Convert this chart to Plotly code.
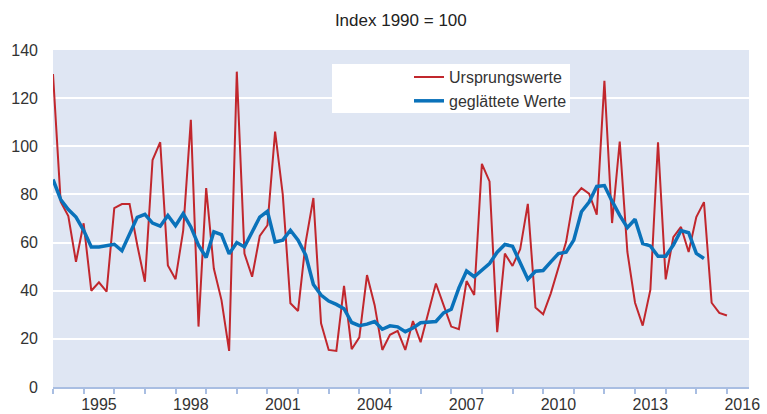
import plotly.graph_objects as go

# Quarterly periods 1994 Q1 ... 2016 Q1 (x position = year + (quarter-1)/4)
start_year = 1994
n_raw = 89
periods = [start_year + i / 4 for i in range(n_raw)]

ursprungswerte = [
    130, 77, 71, 52,            # 1994
    68, 40, 43.5, 39.6,         # 1995
    74.3, 76, 76, 59,           # 1996
    43.7, 94.3, 101.7, 50.5,    # 1997
    44.8, 65, 111, 25.1,        # 1998
    82.6, 49.2, 36.1, 15,       # 1999
    131, 55.4, 45.8, 62.8,      # 2000
    67.2, 106.1, 80, 34.8,      # 2001
    31.6, 60.3, 78.5, 26.5,     # 2002
    15.4, 15, 42, 15.7,         # 2003
    20.6, 46.5, 34, 15.4,       # 2004
    21.7, 23.3, 15.4, 27.4,     # 2005
    18.6, 30.6, 43, 34,         # 2006
    25.1, 24, 44, 38.2,         # 2007
    92.7, 85.4, 22.8, 55.4,     # 2008
    50.3, 57.2, 76.1, 33,       # 2009
    30.2, 38.9, 50, 60.3,       # 2010
    78.9, 82.6, 80.3, 71.6,     # 2011
    127.2, 68.1, 102, 56.1,     # 2012
    35, 25.5, 40.3, 101.7,      # 2013
    44.7, 62.3, 66.5, 56.1,     # 2014
    70.6, 76.8, 35, 30.8,       # 2015
    29.7,                       # 2016
]

geglaettet = [
    86.2, 77.9, 73.7, 70.6,     # 1994
    65.1, 58.2, 58.2, 58.6,     # 1995
    59.3, 56.6, 63.4, 70.5,     # 1996
    71.7, 68.1, 66.8, 71.3,     # 1997
    67, 72, 66.5, 58.9,         # 1998
    53.8, 64.5, 63.3, 55.3,     # 1999
    60, 58.2, 64.4, 70.6,       # 2000
    73, 60.3, 61, 65.1,         # 2001
    61, 54.8, 42.6, 38.2,       # 2002
    35.7, 34.3, 32.5, 26.8,     # 2003
    25.5, 26.1, 27.2, 24,       # 2004
    25.4, 25, 23, 24.5,         # 2005
    26.7, 27, 27.2, 30.8,       # 2006
    32.3, 41.2, 48.2, 45.8,     # 2007
    48.5, 51.3, 56, 59.2,       # 2008
    58.5, 51.8, 44.8, 48.1,     # 2009
    48.4, 52, 55.4, 56,         # 2010
    61, 72.8, 76.8, 83.3,       # 2011
    83.7, 77.2, 71.3, 66.2,     # 2012
    69.7, 59.6, 58.6, 54.3,     # 2013
    54.3, 59, 65, 64.1,         # 2014
    55.5, 53.4,                 # 2015
]

year_label_pos = [1995.5, 1998.5, 2001.5, 2004.5, 2007.5, 2010.5, 2013.5, 2016.5]
year_labels = ["1995", "1998", "2001", "2004", "2007", "2010", "2013", "2016"]
year_ticks = list(range(1994, 2017))
y_ticks = [0, 20, 40, 60, 80, 100, 120, 140]

FONT = "Liberation Sans, Arial, Helvetica, sans-serif"
RED = "#C1272D"
BLUE = "#0A72BA"

fig = go.Figure()
fig.add_trace(go.Scatter(
    x=periods, y=ursprungswerte, mode="lines", name="Ursprungswerte",
    line=dict(color=RED, width=2),
))
fig.add_trace(go.Scatter(
    x=periods[:len(geglaettet)], y=geglaettet, mode="lines", name="geglättete Werte",
    line=dict(color=BLUE, width=3.5),
))

fig.add_shape(type="rect", xref="paper", yref="paper",
              x0=0.4009, x1=0.7428, y0=0.813, y1=0.9585,
              fillcolor="white", line=dict(width=0), layer="above")

fig.update_layout(
    width=767, height=414,
    margin=dict(l=53, r=18, t=50, b=27),
    paper_bgcolor="white",
    plot_bgcolor="#DFE6F3",
    font=dict(family=FONT, size=16, color="#333333"),
    title=dict(text="Index 1990 = 100", x=0.5226, xanchor="center",
               y=1 - 20 / 414, yanchor="middle", yref="container",
               font=dict(family=FONT, size=17, color="#222222")),
    showlegend=True,
    legend=dict(x=0.5115, y=0.970, xanchor="left", yanchor="top",
                bgcolor="rgba(0,0,0,0)", borderwidth=0,
                font=dict(family=FONT, size=16, color="#333333")),
    xaxis=dict(
        range=[1994.0, 2016.72], autorange=False,
        tickmode="array", tickvals=year_label_pos, ticktext=year_labels,
        ticks="", showgrid=False, zeroline=False,
        showline=True, linecolor="#A9BEE2", linewidth=1.5,
        ticklabelstandoff=2,
        minor=dict(tickmode="array", tickvals=year_ticks, ticks="outside",
                   ticklen=5, tickwidth=1.5, tickcolor="#A9BEE2", showgrid=False),
        automargin=False,
        tickfont=dict(family=FONT, size=16, color="#333333"),
    ),
    yaxis=dict(
        range=[0, 140], autorange=False,
        tickmode="array", tickvals=y_ticks,
        showgrid=True, gridcolor="white", gridwidth=2,
        zeroline=False, showline=False, ticks="",
        ticklabelstandoff=14, automargin=False,
        tickfont=dict(family=FONT, size=16, color="#333333"),
    ),
)

fig.write_html(
    "out.html",
    config={"displayModeBar": False},
    post_script="document.body.style.margin='0px';document.body.style.overflow='hidden';",
)
